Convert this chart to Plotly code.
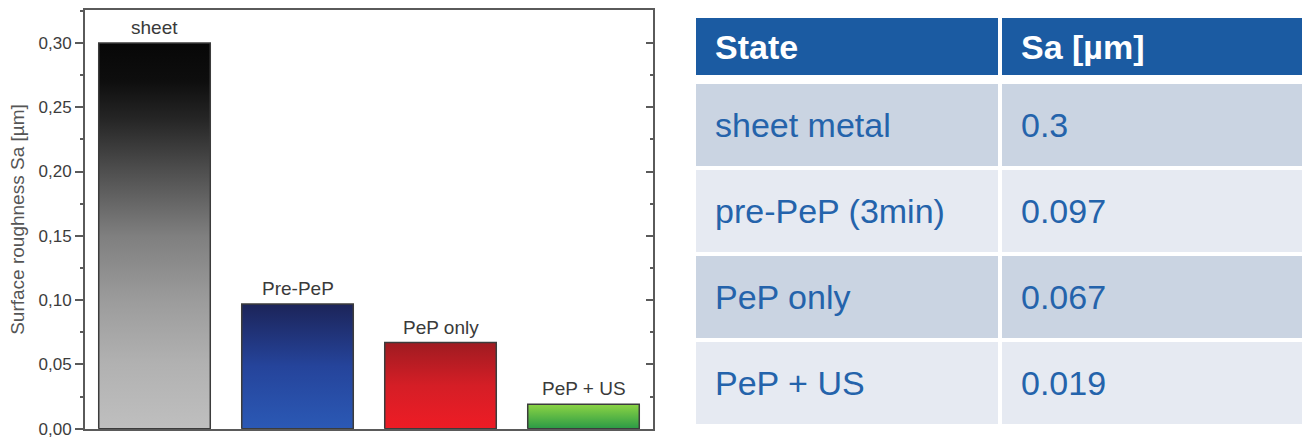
import plotly.graph_objects as go

# Surface roughness per processing state
bar_labels = ["sheet", "Pre-PeP", "PeP only", "PeP + US"]
sa_values = [0.3, 0.097, 0.067, 0.019]

table_header = ["State", "Sa [µm]"]
table_states = ["sheet metal", "pre-PeP (3min)", "PeP only", "PeP + US"]
table_sa = ["0.3", "0.097", "0.067", "0.019"]

# vertical gradients (bottom -> top) for each bar
gradients = [
    [[0, "#bfbfbf"], [0.17, "#b1b1b1"], [0.33, "#9c9c9c"], [0.5, "#7f7f7f"],
     [0.67, "#4e4e4e"], [0.8, "#262626"], [0.9, "#0e0e0e"], [1, "#070707"]],
    [[0, "#2b59b5"], [0.5, "#25449b"], [1, "#1c2459"]],
    [[0, "#ee1c25"], [0.5, "#d51e26"], [1, "#9f1b21"]],
    [[0, "#2a9a46"], [1, "#8cd444"]],
]

W, H = 1302, 437
FONT = "Arial, Liberation Sans, sans-serif"
bar_w = 0.78
axis_col = "#5a5a5a"

fig = go.Figure()

# each bar: a rectangle from 0 to its value, filled with a vertical gradient
for i, (lab, v, cs) in enumerate(zip(bar_labels, sa_values, gradients)):
    x0, x1 = i - bar_w / 2, i + bar_w / 2
    fig.add_trace(go.Scatter(
        x=[x0, x1, x1, x0, x0], y=[0, 0, v, v, 0],
        mode="lines", line=dict(width=1.5, color="#3c3c3c"), fill="toself",
        fillgradient=dict(type="vertical", colorscale=cs, start=0, stop=v),
        name=lab, hoveron="fills", showlegend=False,
    ))
    fig.add_annotation(x=i, y=v, text=lab, showarrow=False, yanchor="bottom",
                       yshift=3, font=dict(family=FONT, size=19, color="#3a3a3a"))

# empty trace carrying the right-hand axis
fig.add_trace(go.Scatter(x=[None], y=[None], yaxis="y2", showlegend=False))

# table on the right, built from the lists above
col_x = [(696, 998), (1002, W)]
hdr_top, hdr_bot = 18, 75
row_top0, row_pitch, row_h = 84, 86, 82
hdr_fill = "#1b5ba2"
row_fills = ["#cad4e2", "#e6eaf2"]
txt_blue = "#2463ab"


def px(x):
    return x / W


def py(y):
    return 1 - y / H


for c, (a, b) in enumerate(col_x):
    fig.add_shape(type="rect", xref="paper", yref="paper",
                  x0=px(a), x1=px(b), y0=py(hdr_bot), y1=py(hdr_top),
                  fillcolor=hdr_fill, line=dict(width=0), layer="below")
    fig.add_annotation(xref="paper", yref="paper", x=px(a + 17), y=py((hdr_top + hdr_bot) / 2),
                       xanchor="left", yanchor="middle", showarrow=False,
                       text="<b>%s</b>" % table_header[c],
                       font=dict(family=FONT, size=34, color="white"))

for r, (state, sa) in enumerate(zip(table_states, table_sa)):
    t = row_top0 + r * row_pitch
    bt = t + row_h
    for c, (a, b) in enumerate(col_x):
        fig.add_shape(type="rect", xref="paper", yref="paper",
                      x0=px(a), x1=px(b), y0=py(bt), y1=py(t),
                      fillcolor=row_fills[r % 2], line=dict(width=0), layer="below")
        fig.add_annotation(xref="paper", yref="paper", x=px(a + 17), y=py((t + bt) / 2),
                           xanchor="left", yanchor="middle", showarrow=False,
                           text=[state, sa][c],
                           font=dict(family=FONT, size=34, color=txt_blue))

fig.update_layout(
    width=W, height=H,
    margin=dict(l=0, r=0, t=0, b=0, autoexpand=False),
    paper_bgcolor="white", plot_bgcolor="white",
    separators=", ",
    xaxis=dict(domain=[85 / W, 653 / W], range=[-0.486, 3.486], automargin=False,
               showline=True, mirror=True, linecolor=axis_col, linewidth=2,
               showticklabels=False, ticks="", showgrid=False, zeroline=False),
    yaxis=dict(domain=[8 / H, 427 / H], range=[-0.0002, 0.3256], automargin=False,
               showline=True, mirror=True, linecolor=axis_col, linewidth=2,
               tick0=0, dtick=0.05, tickformat=".2f", ticklabeloverflow="allow",
               ticks="outside", ticklen=8, tickwidth=2, tickcolor=axis_col,
               minor=dict(ticks="outside", ticklen=3, tickwidth=2, tickcolor=axis_col, dtick=0.025),
               tickfont=dict(family=FONT, size=17, color="#3c3c3c"),
               showgrid=False, zeroline=False,
               title=dict(text="Surface roughness Sa [µm]", standoff=9,
                          font=dict(family=FONT, size=19, color="#555555"))),
    yaxis2=dict(overlaying="y", side="right", matches="y", anchor="x", automargin=False,
                showline=False, showticklabels=False, showgrid=False, zeroline=False,
                tick0=0, dtick=0.05, ticks="inside", ticklen=7, tickwidth=2, tickcolor=axis_col,
                minor=dict(ticks="inside", ticklen=3, tickwidth=2, tickcolor=axis_col, dtick=0.025)),
)

fig.write_html("out.html")
